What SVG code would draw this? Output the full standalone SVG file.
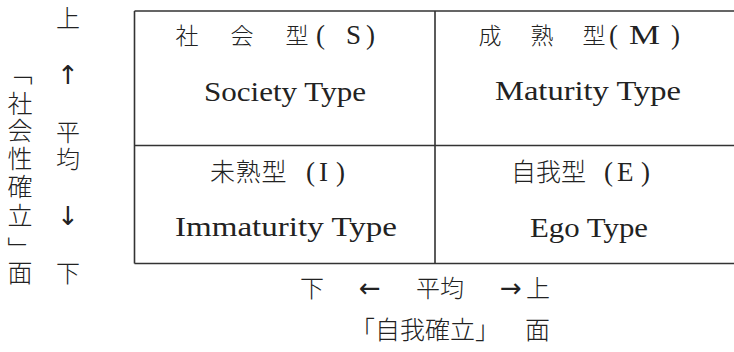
<svg xmlns="http://www.w3.org/2000/svg" width="734" height="352" viewBox="0 0 734 352">
<style>
.jp{font-family:"Noto Sans CJK JP","Noto Sans CJK SC",sans-serif;font-weight:300;fill:#222}
.en{font-family:"Liberation Serif","Times New Roman",serif;fill:#222}
.ar{font-family:"DejaVu Sans",sans-serif;font-weight:400;fill:#222}
.grid{stroke:#333;stroke-width:1.6;fill:none}
</style>
<rect width="734" height="352" fill="#fff"/>
<g id="connectors">
<path class="grid" d="M134.5 11 H734 M134.5 145.5 H734 M134.5 263.5 H734 M134.5 11 V263.5 M435 11 V263.5"/>
</g>
<g id="node-society">
<text class="jp" font-size="23" y="44" text-anchor="middle"><tspan x="187">社</tspan><tspan x="242">会</tspan><tspan x="297">型</tspan></text>
<text class="en" font-size="27" y="44"><tspan x="316">(</tspan><tspan x="346">S</tspan><tspan x="366">)</tspan></text>
<text class="en" font-size="28" x="204" y="101" textLength="162" lengthAdjust="spacingAndGlyphs">Society Type</text>
</g>
<g id="node-maturity">
<text class="jp" font-size="23" y="44" text-anchor="middle"><tspan x="490">成</tspan><tspan x="542">熟</tspan><tspan x="594">型</tspan></text>
<text class="en" font-size="27" y="44"><tspan x="609">(</tspan><tspan x="629" textLength="31" lengthAdjust="spacingAndGlyphs">M</tspan><tspan x="671">)</tspan></text>
<text class="en" font-size="28" x="495" y="100" textLength="186" lengthAdjust="spacingAndGlyphs">Maturity Type</text>
</g>
<g id="node-immaturity">
<text class="jp" font-size="25" x="210" y="181" letter-spacing="0.7">未熟型</text>
<text class="en" font-size="27" y="181"><tspan x="306">(</tspan><tspan x="319">I</tspan><tspan x="336">)</tspan></text>
<text class="en" font-size="28" x="175" y="236" textLength="222" lengthAdjust="spacingAndGlyphs">Immaturity Type</text>
</g>
<g id="node-ego">
<text class="jp" font-size="25" x="511" y="181">自我型</text>
<text class="en" font-size="27" y="181"><tspan x="604">(</tspan><tspan x="617">E</tspan><tspan x="641">)</tspan></text>
<text class="en" font-size="28" x="530" y="237" textLength="118" lengthAdjust="spacingAndGlyphs">Ego Type</text>
</g>
<g id="axis-vertical">
<text class="jp" font-size="24" text-anchor="middle"><tspan x="68" y="27">上</tspan><tspan class="ar" font-size="26" x="68" y="84">↑</tspan><tspan x="68" y="141">平</tspan><tspan x="68" y="168">均</tspan><tspan class="ar" font-size="26" x="68" y="225">↓</tspan><tspan x="68" y="282">下</tspan></text>
</g>
<g id="label-vertical">
<text class="jp" font-size="25" x="20" y="60" style="writing-mode:vertical-rl">「</text>
<text class="jp" font-size="25" text-anchor="middle"><tspan x="20" y="113">社</tspan><tspan x="20" y="140">会</tspan><tspan x="20" y="168">性</tspan><tspan x="20" y="196">確</tspan><tspan x="20" y="225">立</tspan><tspan x="20" y="282">面</tspan></text>
<text class="jp" font-size="25" x="20" y="237" style="writing-mode:vertical-rl">」</text>
</g>
<g id="axis-horizontal">
<text class="jp" font-size="24" y="297" text-anchor="middle"><tspan x="312">下</tspan><tspan class="ar" font-size="26" x="370">←</tspan><tspan x="440">平均</tspan><tspan class="ar" font-size="26" x="511">→</tspan><tspan x="538">上</tspan></text>
</g>
<g id="label-horizontal">
<text class="jp" font-size="25" y="339"><tspan x="350">「自我確立」</tspan><tspan x="525">面</tspan></text>
</g>
</svg>
